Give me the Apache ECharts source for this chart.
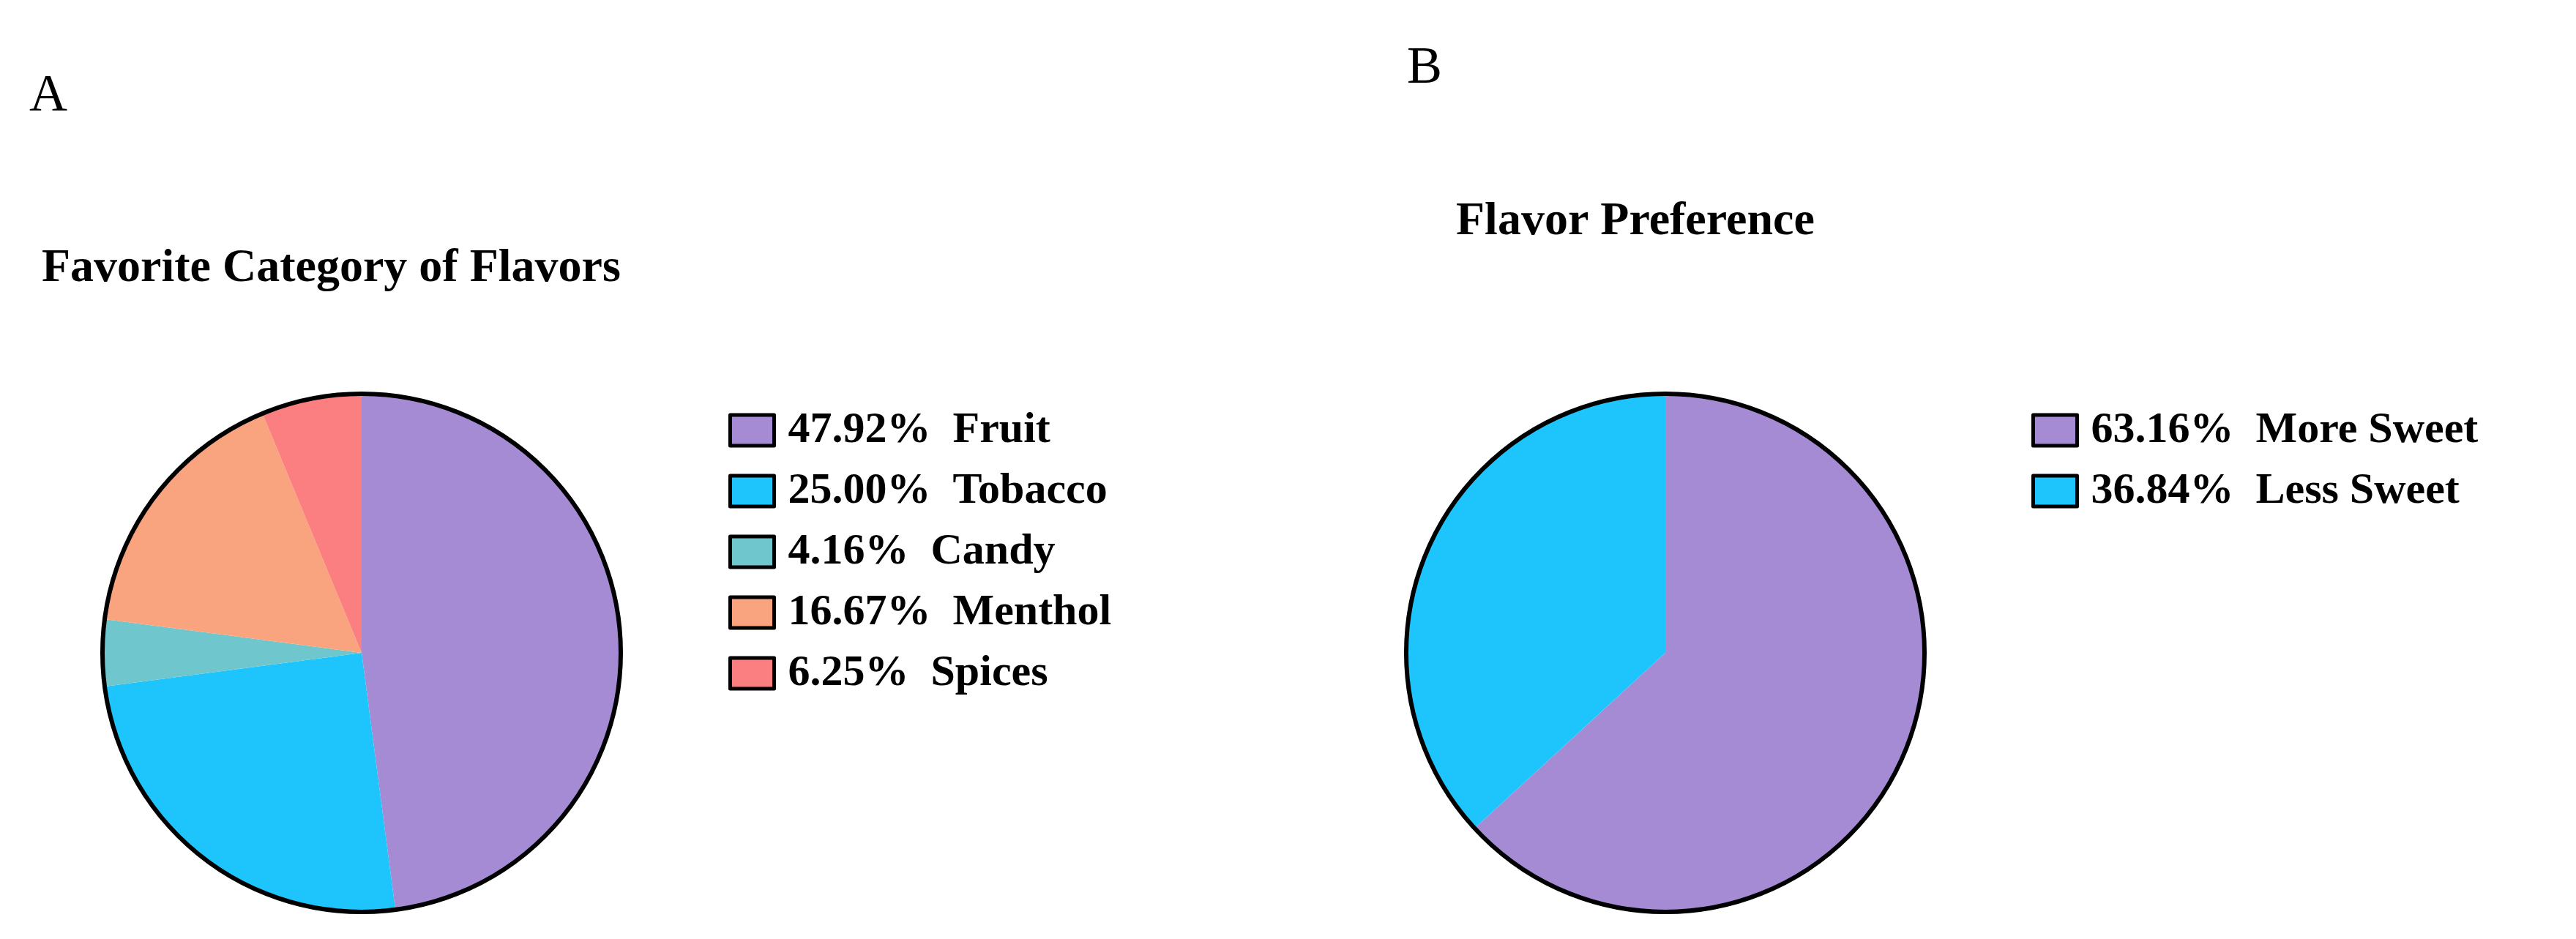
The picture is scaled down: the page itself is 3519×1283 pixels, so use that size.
<!DOCTYPE html>
<html>
<head>
<meta charset="utf-8">
<title>Flavors</title>
<script src="https://cdn.jsdelivr.net/npm/echarts@6/dist/echarts.min.js"></script>
</head>
<body style="margin:0;background:#fff;">
<div id="main" style="width:3519px;height:1283px;"></div>
<script type="text/javascript">
var catA = ['Fruit', 'Tobacco', 'Candy', 'Menthol', 'Spices'];
var valA = [47.92, 25.00, 4.16, 16.67, 6.25];
var colA = ['#a48bd4', '#1ec5fd', '#6fc6cc', '#f9a47e', '#fb7f80'];
var catB = ['More Sweet', 'Less Sweet'];
var valB = [63.16, 36.84];
var colB = ['#a48bd4', '#1ec5fd'];

var font = '"Liberation Serif", "Times New Roman", serif';
var chart = echarts.init(document.getElementById('main'));

function pieData(cats, vals, cols) {
  return cats.map(function (c, i) {
    return { name: c, value: vals[i], itemStyle: { color: cols[i] } };
  });
}
var lookup = {};
catA.forEach(function (c, i) { lookup[c] = valA[i].toFixed(2); });
catB.forEach(function (c, i) { lookup[c] = valB[i].toFixed(2); });

var legendBase = {
  orient: 'vertical',
  itemWidth: 60, itemHeight: 42, itemGap: 23,
  icon: 'rect',
  itemStyle: { borderColor: '#000', borderWidth: 5 },
  textStyle: { fontFamily: font, fontSize: 60, fontWeight: 'bold', color: '#000', padding: [0, 0, 0, 14] },
  formatter: function (n) { return lookup[n] + '%  ' + n; }
};

chart.setOption({
  animation: false,
  title: [
    { text: 'Favorite Category of Flavors', left: 52, top: 330,
      textStyle: { fontFamily: font, fontSize: 64, fontWeight: 'bold', color: '#000' } },
    { text: 'Flavor Preference', left: 1984, top: 266,
      textStyle: { fontFamily: font, fontSize: 64, fontWeight: 'bold', color: '#000' } }
  ],
  graphic: [
    { type: 'text', left: 40, top: 96, style: { text: 'A', font: '72px ' + font, fill: '#000' } },
    { type: 'text', left: 1922, top: 58, style: { text: 'B', font: '72px ' + font, fill: '#000' } }
  ],
  legend: [
    Object.assign({ data: catA, left: 990, top: 553 }, legendBase),
    Object.assign({ data: catB, left: 2770, top: 553 }, legendBase)
  ],
  series: [
    { type: 'pie', center: [494, 892], radius: 352, startAngle: 90, clockwise: true,
      label: { show: false }, labelLine: { show: false }, silent: true,
      itemStyle: { borderWidth: 0 },
      data: pieData(catA, valA, colA) },
    { type: 'pie', center: [494, 892], radius: 354, silent: true,
      label: { show: false }, itemStyle: { color: 'none', borderColor: '#000', borderWidth: 6 },
      data: [{ value: 1, name: '' }], legendHoverLink: false },
    { type: 'pie', center: [2275, 892], radius: 352, startAngle: 90, clockwise: true,
      label: { show: false }, labelLine: { show: false }, silent: true,
      itemStyle: { borderWidth: 0 },
      data: pieData(catB, valB, colB) },
    { type: 'pie', center: [2275, 892], radius: 354, silent: true,
      label: { show: false }, itemStyle: { color: 'none', borderColor: '#000', borderWidth: 6 },
      data: [{ value: 1, name: '' }], legendHoverLink: false }
  ]
});
</script>
</body>
</html>
